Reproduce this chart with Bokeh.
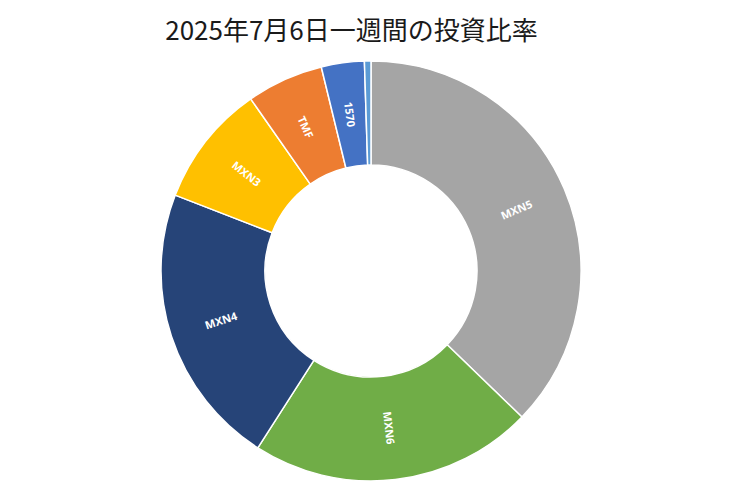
import numpy as np
from bokeh.plotting import figure
from bokeh.models import ColumnDataSource, Label
from bokeh.embed import file_html
from bokeh.resources import INLINE
from bokeh.core.properties import value

# ---- data ----
title_text = "2025年7月6日一週間の投資比率"
names = ["MXN5", "MXN6", "MXN4", "MXN3", "TMF", "1570", ""]
shares = [37.2, 21.8, 21.8, 9.4, 5.9, 3.3, 0.5]
colors = ["#A5A5A5", "#70AD47", "#264478", "#FFC000", "#ED7D31", "#4472C4", "#5B9BD5"]

# ---- layout ----
W, H = 732, 485
cx, cy = 370.5, 270.5          # donut centre, px from canvas top-left
r_in, r_out = 106, 210

frac = np.array(shares, dtype=float) / sum(shares)
cum = np.concatenate([[0.0], np.cumsum(frac)])
theta0 = cum[:-1] * 2 * np.pi           # clockwise from 12 o'clock
theta1 = cum[1:] * 2 * np.pi
mid = (theta0 + theta1) / 2
r_lab = (r_in + r_out) / 2
ang = np.where(mid <= np.pi, np.pi / 2 - mid, 3 * np.pi / 2 - mid)

src = ColumnDataSource(dict(
    name=names,
    color=colors,
    start=np.pi / 2 - theta0,
    end=np.pi / 2 - theta1,
    lx=r_lab * np.sin(mid),
    ly=r_lab * np.cos(mid),
    ang=ang,
))

p = figure(width=W, height=H, x_range=(-cx, W - cx), y_range=(-(H - cy), cy),
           output_backend="svg", toolbar_location=None, min_border=0,
           x_axis_type=None, y_axis_type=None)
p.grid.visible = False
p.outline_line_color = None
p.background_fill_color = "white"
p.border_fill_color = "white"

p.annular_wedge(x=0, y=0, inner_radius=r_in, outer_radius=r_out,
                start_angle="start", end_angle="end", direction="clock",
                fill_color="color", line_color="white", line_width=1.5,
                source=src)

p.text(x="lx", y="ly", text="name", angle="ang", source=src,
       text_color="white", text_font=value("Open Sans"), text_font_size="11px",
       text_font_style="bold", text_align="center", text_baseline="middle")

p.add_layout(Label(x=351 - cx, y=cy - 28, text=title_text,
                   text_font="Noto Sans CJK JP", text_font_size="26px",
                   text_color="#1a1a1a", text_align="center",
                   text_baseline="middle"))

open("out.html", "w").write(file_html(p, INLINE))
